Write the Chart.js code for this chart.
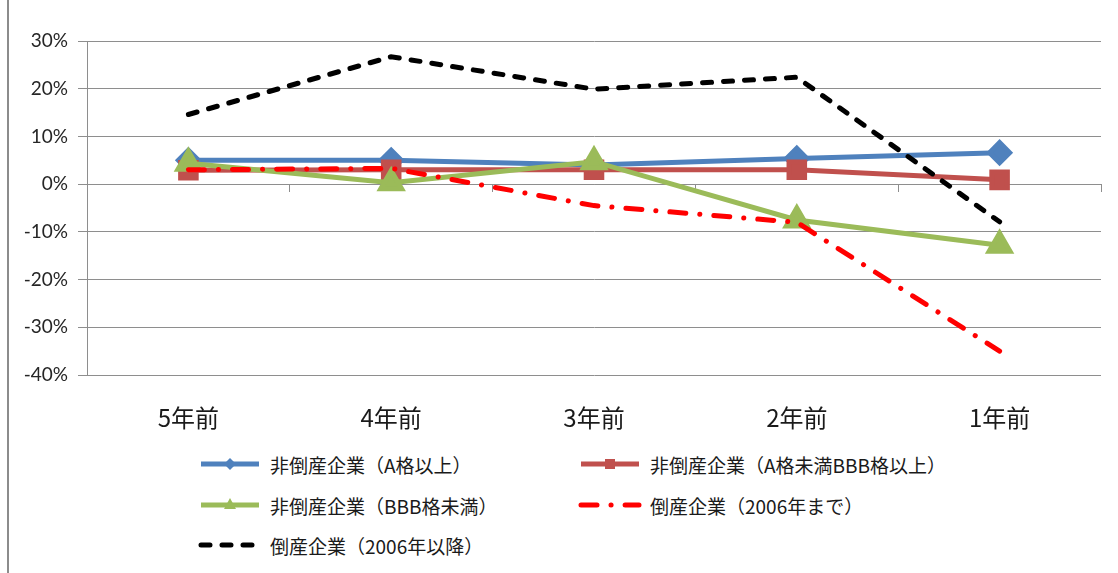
<!DOCTYPE html>
<html>
<head>
<meta charset="utf-8">
<script src="https://cdn.jsdelivr.net/npm/chart.js@4/dist/chart.umd.min.js"></script>
<style>
html,body{margin:0;padding:0;background:#fff;}
body{width:1118px;height:573px;position:relative;overflow:hidden;font-family:"Noto Sans CJK JP",sans-serif;}
#frame{position:absolute;left:7px;top:0;width:2px;height:573px;background:#8c8c8c;}
#wrap{position:absolute;left:0;top:0;width:1118px;height:440px;}
#legend{position:absolute;left:0;top:440px;width:1118px;height:133px;}
.item{position:absolute;display:flex;align-items:center;height:26px;font-size:19px;color:#1a1a1a;white-space:nowrap;}
.item svg{margin-right:8px;}
</style>
</head>
<body>
<div id="frame"></div>
<div id="wrap"><canvas id="chart"></canvas></div>
<div id="legend"></div>
<script>
console.log('Loaded')

// categories and values (percent)
const categories = ['5年前','4年前','3年前','2年前','1年前']
const seriesNames = [
  '非倒産企業（A格以上）',
  '非倒産企業（A格未満BBB格以上）',
  '非倒産企業（BBB格未満）',
  '倒産企業（2006年まで）',
  '倒産企業（2006年以降）'
]
const nonBankruptA = [5.0, 5.0, 4.0, 5.4, 6.6]
const nonBankruptBBB = [2.9, 3.0, 3.0, 3.0, 0.9]
const nonBankruptLow = [4.4, 0.3, 4.7, -7.5, -12.8]
const bankruptUntil2006 = [3.0, 3.3, -4.5, -8.0, -35.0]
const bankruptSince2006 = [14.6, 26.7, 19.9, 22.4, -7.9]
const yMin = -40, yMax = 30, yStep = 10

const gridColor = '#8e8e8e'

let ctx = document.getElementById('chart').getContext('2d')

let chart = new Chart(ctx, {
  type: 'line',
  data: {
    labels: categories,
    datasets: [{
      label: seriesNames[0],
      data: nonBankruptA,
      borderColor: '#4f81bd',
      backgroundColor: '#4f81bd',
      borderWidth: 5,
      pointStyle: 'rectRot',
      pointRadius: 10,
      order: 5
    }, {
      label: seriesNames[1],
      data: nonBankruptBBB,
      borderColor: '#c0504d',
      backgroundColor: '#c0504d',
      borderWidth: 5,
      pointStyle: 'rect',
      pointRadius: 11,
      order: 4
    }, {
      label: seriesNames[2],
      data: nonBankruptLow,
      borderColor: '#9bbb59',
      backgroundColor: '#9bbb59',
      borderWidth: 5,
      pointStyle: 'triangle',
      pointRadius: 12,
      order: 3
    }, {
      label: seriesNames[3],
      data: bankruptUntil2006,
      borderColor: '#ff0000',
      backgroundColor: '#ff0000',
      borderWidth: 5,
      borderDash: [16, 14, 0.1, 14],
      borderCapStyle: 'round',
      pointRadius: 0,
      order: 2
    }, {
      label: seriesNames[4],
      data: bankruptSince2006,
      borderColor: '#000000',
      backgroundColor: '#000000',
      borderWidth: 5,
      borderDash: [9, 12],
      borderCapStyle: 'round',
      pointRadius: 0,
      order: 1
    }]
  },
  options: {
    responsive: true,
    maintainAspectRatio: false,
    animation: false,
    layout: { padding: { top: 41, right: 17, bottom: 0, left: 0 } },
    plugins: { legend: { display: false }, tooltip: { enabled: false } },
    scales: {
      x: {
        offset: true,
        grid: { display: false },
        border: { display: false },
        ticks: { padding: 20, color: '#1a1a1a', font: { family: '"Noto Sans CJK JP"', size: 24 } },
        afterFit: function(scale) { scale.height = 65 }
      },
      x2: {
        type: 'category',
        labels: categories,
        position: { y: 0 },
        offset: true,
        grid: { offset: true, drawOnChartArea: false, tickLength: 7, color: gridColor },
        border: { display: true, color: gridColor },
        ticks: { display: false }
      },
      y: {
        min: yMin,
        max: yMax,
        ticks: {
          stepSize: yStep,
          padding: 10,
          color: '#262626',
          font: { family: 'Lato', size: 19 },
          callback: function(v) { return v + '%' }
        },
        grid: { color: gridColor, lineWidth: 1, tickLength: 9 },
        border: { display: true, color: gridColor },
        afterFit: function(scale) { scale.width = 87 }
      }
    }
  }
})

// html legend in two columns, built from the datasets
function sampleSvg(ds) {
  let w = 64, h = 20, c = ds.borderColor
  let dash = ds.borderDash ? ds.borderDash.join(',') : 'none'
  let cap = ds.borderCapStyle === 'round' ? 'round' : 'butt'
  let s = '<svg width="' + w + '" height="' + h + '"><line x1="3" y1="10" x2="' + (w - 3) + '" y2="10" stroke="' + c +
    '" stroke-width="' + ds.borderWidth + '" stroke-dasharray="' + dash + '" stroke-linecap="' + cap + '"/>'
  if (ds.pointStyle === 'rectRot') s += '<polygon points="32,4 38,10 32,16 26,10" fill="' + c + '"/>'
  if (ds.pointStyle === 'rect') s += '<rect x="27" y="5" width="10" height="10" fill="' + c + '"/>'
  if (ds.pointStyle === 'triangle') s += '<polygon points="32,3 38,14 26,14" fill="' + c + '"/>'
  return s + '</svg>'
}
let legendEl = document.getElementById('legend')
let colX = [198, 578]
let rowY = [11, 52, 92]
chart.data.datasets.forEach(function(ds, i) {
  let d = document.createElement('div')
  d.className = 'item'
  d.style.left = colX[i % 2] + 'px'
  d.style.top = rowY[Math.floor(i / 2)] + 'px'
  d.innerHTML = sampleSvg(ds) + '<span>' + ds.label + '</span>'
  legendEl.appendChild(d)
})
</script>
</body>
</html>
